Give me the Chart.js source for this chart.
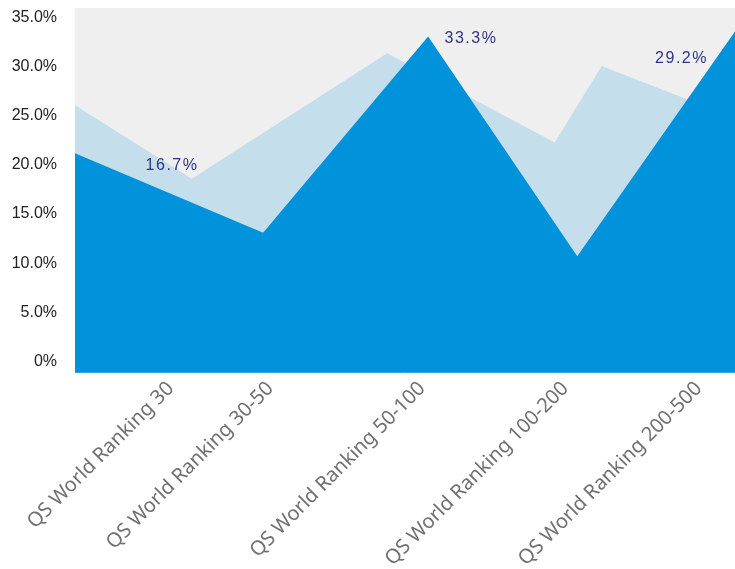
<!DOCTYPE html>
<html>
<head>
<meta charset="utf-8">
<script src="https://cdn.jsdelivr.net/npm/chart.js@4"></script>
<style>
  body { margin: 0; background: #fff; }
</style>
</head>
<body>
<canvas id="rankingChart" width="735" height="569"></canvas>
<script>
// Ranking bands shown under the x axis and where they sit along it (0-100)
const categories = ['QS World Ranking 30', 'QS World Ranking 30-50', 'QS World Ranking 50-100', 'QS World Ranking 100-200', 'QS World Ranking 200-500'];
const categoryX = [14.5, 29.6, 52.6, 74.3, 94.5];

// Front series (dark blue)
const frontX = [0, 28.5, 53.5, 76.1, 100];
const frontY = [21.2, 13.1, 33.1, 10.7, 33.6];

// Back series (light blue)
const backX = [0, 17.7, 47.3, 72.7, 79.8, 100];
const backY = [26.1, 18.6, 31.4, 22.3, 30.1, 24.8];

// Value labels written on the chart
const valueLabels = ['16.7%', '33.3%', '29.2%'];
const valueLabelX = [14.7, 60.0, 91.9];
const valueLabelY = [19.9, 32.9, 30.8];

const yTicks = [0, 5, 10, 15, 20, 25, 30, 35];

const toPoints = (xs, ys) => xs.map((x, i) => ({ x: x, y: ys[i] }));

// grey plot background
const plotBackground = {
    id: 'plotBackground',
    beforeDraw(chart) {
        const { ctx, chartArea: a } = chart;
        ctx.save();
        ctx.fillStyle = '#efefef';
        ctx.fillRect(a.left, a.top, a.right - a.left, a.bottom - a.top);
        ctx.restore();
    }
};

const valueLabelPlugin = {
    id: 'valueLabels',
    afterDatasetsDraw(chart) {
        const { ctx, scales } = chart;
        ctx.save();
        ctx.font = '16px "Liberation Sans", Arial, sans-serif';
        ctx.letterSpacing = '1.5px';
        ctx.fillStyle = '#2e3586';
        ctx.textAlign = 'center';
        ctx.textBaseline = 'middle';
        valueLabels.forEach((txt, i) => {
            ctx.fillText(txt, scales.x.getPixelForValue(valueLabelX[i]), scales.y.getPixelForValue(valueLabelY[i]));
        });
        ctx.restore();
    }
};

new Chart(document.getElementById('rankingChart'), {
    type: 'line',
    data: {
        datasets: [
            {
                data: toPoints(frontX, frontY),
                backgroundColor: '#0092da',
                borderWidth: 0,
                pointRadius: 0,
                fill: 'start',
                tension: 0
            },
            {
                data: toPoints(backX, backY),
                backgroundColor: '#c5deeb',
                borderWidth: 0,
                pointRadius: 0,
                fill: 'start',
                tension: 0
            }
        ]
    },
    options: {
        responsive: false,
        animation: false,
        layout: { padding: { top: 8 } },
        plugins: {
            legend: { display: false },
            tooltip: { enabled: false }
        },
        scales: {
            x: {
                type: 'linear',
                min: 0,
                max: 100,
                grid: { display: false, drawTicks: false },
                border: { display: true, color: '#36a5e2', width: 1 },
                afterBuildTicks: axis => { axis.ticks = categoryX.map(v => ({ value: v })); },
                afterFit: axis => { axis.height = 197; axis.paddingLeft = 0; axis.paddingRight = 0; },
                ticks: {
                    autoSkip: false,
                    minRotation: 45,
                    maxRotation: 45,
                    padding: 5,
                    color: '#707070',
                    font: { family: '"Noto Sans", sans-serif', size: 20 },
                    callback: (value, index) => categories[index]
                }
            },
            y: {
                min: -1.1,
                max: 36,
                grid: { display: false, drawTicks: false },
                border: { display: false },
                afterBuildTicks: axis => { axis.ticks = yTicks.map(v => ({ value: v })); },
                afterFit: axis => { axis.width = 75; axis.paddingTop = 0; axis.paddingBottom = 0; },
                ticks: {
                    padding: 18,
                    color: '#222',
                    font: { family: '"Liberation Sans", Arial, sans-serif', size: 16 },
                    callback: v => v === 0 ? '0%' : v.toFixed(1) + '%'
                }
            }
        }
    },
    plugins: [plotBackground, valueLabelPlugin]
});
</script>
</body>
</html>
